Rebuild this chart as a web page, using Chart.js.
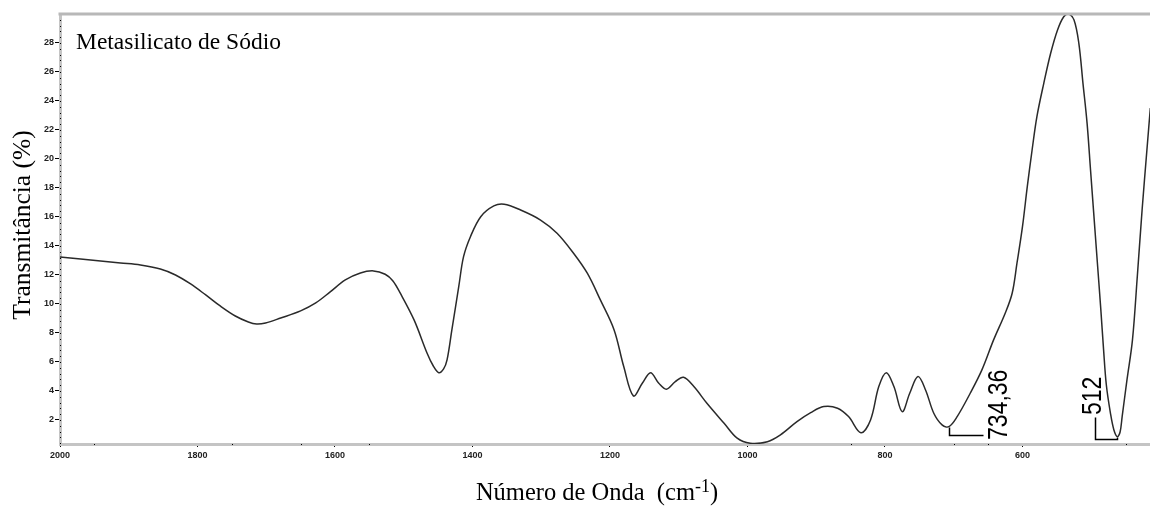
<!DOCTYPE html>
<html>
<head>
<meta charset="utf-8">
<title>Metasilicato de Sódio</title>
<script src="https://cdn.jsdelivr.net/npm/chart.js@4.4.1/dist/chart.umd.min.js"></script>
<style>
  html, body { margin: 0; padding: 0; background: #fff; }
  #wrap { width: 1150px; height: 506px; position: relative; }
</style>
</head>
<body>
<div id="wrap"><canvas id="myChart"></canvas></div>
<script>
// spectrum (cm-1 / %)
var waveNumber = [2000, 1970, 1941, 1912, 1883, 1854, 1832, 1810, 1788, 1767, 1745, 1726, 1714, 1701,
  1679, 1650, 1628, 1607, 1585, 1563, 1544, 1527, 1516, 1505, 1485, 1466, 1457, 1449, 1442, 1437,
  1430, 1420, 1413, 1403, 1388, 1369, 1354, 1330, 1301, 1277, 1253, 1233, 1214, 1194, 1180, 1166,
  1153, 1141, 1129, 1118, 1105, 1093, 1078, 1059, 1034, 1015, 996, 971, 952, 928, 908, 889, 869,
  853, 835, 821, 809, 798, 787, 775, 764, 752, 741, 729, 717, 707, 695, 676, 659, 642, 625, 615,
  608, 600, 593, 586, 579, 569, 559, 549, 540, 533, 525, 518, 512, 506, 501, 496, 491, 486, 482,
  478, 472, 467, 462, 458, 455, 448, 440, 433, 426, 419, 414];
var transmittance = [13.24, 13.10, 12.97, 12.83, 12.69, 12.41, 12.0, 11.38, 10.62, 9.86, 9.17, 8.76, 8.62, 8.69,
  9.03, 9.52, 10.07, 10.83, 11.66, 12.14, 12.28, 12.05, 11.6, 10.74, 8.90, 6.60, 5.72, 5.26, 5.52, 6.14,
  8.21, 11.19, 13.26, 14.64, 16.02, 16.76, 16.88, 16.48, 15.79, 14.88, 13.50, 12.12, 10.28, 8.21, 5.68, 3.66,
  4.53, 5.26, 4.53, 4.12, 4.64, 4.94, 4.30, 3.15, 1.77, 0.74, 0.39, 0.50, 0.97, 1.88, 2.50, 2.92, 2.81,
  2.23, 1.12, 2.0, 4.30, 5.26, 4.30, 2.57, 3.84, 4.99, 4.07, 2.46, 1.66, 1.54, 2.23, 3.84, 5.45, 7.52, 9.38, 10.74,
  12.81, 15.33, 18.09, 20.62, 22.92, 25.22, 27.29, 28.9, 29.81, 30.0, 29.59, 27.98, 25.22, 22.46, 19.24, 16.02, 12.81, 9.59, 6.83,
  4.41, 2.46, 1.31, 0.85, 1.17, 2.23, 4.76, 7.52, 11.88, 16.48, 20.62, 23.52];

var xTicks = [2000, 1800, 1600, 1400, 1200, 1000, 800, 600];
var xMinorTicks = [1950, 1750, 1650, 1550, 850, 700, 650, 450];
var yTicks = [2, 4, 6, 8, 10, 12, 14, 16, 18, 20, 22, 24, 26, 28];

var sampleName = 'Metasilicato de Sódio';
var peakText = ['734,36', '512'];
// bracket from the marked minimum, then where the label starts
var peakPath = [
  [[707, 1.54], [707, 0.97], [657, 0.97]],
  [[462, 0.85], [462, 0.67], [494, 0.67], [494, 2.18]]
];
var peakTextAt = [[622, 0.62], [486.5, 2.34]];

var tickFont = { family: 'Liberation Sans', size: 9, weight: 'bold' };
var serif = '"Liberation Serif", "DejaVu Serif", serif';

var spectrumDecor = {
  id: 'spectrumDecor',
  afterDraw: function (chart) {
    var ctx = chart.ctx;
    var a = chart.chartArea;
    var xs = chart.scales.x, ys = chart.scales.y;
    ctx.save();

    // top frame line
    ctx.strokeStyle = '#b8b8b8';
    ctx.lineWidth = 3;
    ctx.beginPath();
    ctx.moveTo(a.left - 1.5, a.top);
    ctx.lineTo(a.right, a.top);
    ctx.stroke();

    // minor tick dots
    ctx.fillStyle = '#000';
    for (var v = 0.4; v < 30; v += 0.4) {
      var py = ys.getPixelForValue(v);
      if (py > a.top + 2) ctx.fillRect(a.left, Math.round(py), 1, 1);
    }
    xMinorTicks.forEach(function (w) {
      ctx.fillRect(Math.round(xs.getPixelForValue(w)), a.bottom, 1, 1);
    });

    // sample name
    ctx.fillStyle = '#000';
    ctx.font = '23.5px ' + serif;
    ctx.textBaseline = 'alphabetic';
    ctx.textAlign = 'left';
    ctx.fillText(sampleName, a.left + 16, a.top + 35);

    // y title
    ctx.save();
    ctx.translate(30, (a.top + a.bottom) / 2 - 4);
    ctx.rotate(-Math.PI / 2);
    ctx.textAlign = 'center';
    ctx.font = '25.5px ' + serif;
    ctx.fillText('Transmitância (%)', 0, 0);
    ctx.restore();

    // x title with superscript
    var main = 'Número de Onda  (cm';
    ctx.font = '24.5px ' + serif;
    var w1 = ctx.measureText(main).width;
    ctx.font = '18px ' + serif;
    var w2 = ctx.measureText('-1').width;
    ctx.font = '24.5px ' + serif;
    var w3 = ctx.measureText(')').width;
    var x0 = 597 - (w1 + w2 + w3) / 2;
    var base = 500;
    ctx.fillText(main, x0, base);
    ctx.font = '18px ' + serif;
    ctx.fillText('-1', x0 + w1, base - 8);
    ctx.font = '24.5px ' + serif;
    ctx.fillText(')', x0 + w1 + w2, base);

    // peak marks
    ctx.strokeStyle = '#000';
    ctx.lineWidth = 1.5;
    peakPath.forEach(function (path, i) {
      ctx.beginPath();
      path.forEach(function (p, j) {
        var px = Math.round(xs.getPixelForValue(p[0])) + 0.5;
        var py = Math.round(ys.getPixelForValue(p[1])) + 0.5;
        if (j === 0) ctx.moveTo(px, py); else ctx.lineTo(px, py);
      });
      ctx.stroke();

      ctx.save();
      ctx.translate(xs.getPixelForValue(peakTextAt[i][0]), ys.getPixelForValue(peakTextAt[i][1]));
      ctx.rotate(-Math.PI / 2);
      ctx.scale(1, 1.2);
      ctx.font = '23px "Liberation Sans"';
      ctx.textAlign = 'left';
      ctx.fillText(peakText[i], 0, 0);
      ctx.restore();
    });

    ctx.restore();
  }
};

var points = waveNumber.map(function (w, i) {
  return { x: w, y: transmittance[i] };
});

new Chart(document.getElementById('myChart'), {
  type: 'line',
  data: {
    datasets: [{
      data: points,
      borderColor: '#2a2a2a',
      borderWidth: 1.5,
      pointRadius: 0,
      fill: false,
      tension: 0.35
    }]
  },
  options: {
    responsive: true,
    maintainAspectRatio: false,
    animation: false,
    devicePixelRatio: 1,
    layout: { padding: { top: 14, right: 0, left: 0, bottom: 0 } },
    plugins: { legend: { display: false }, tooltip: { enabled: false } },
    scales: {
      x: {
        type: 'linear',
        reverse: true,
        min: 414.5,
        max: 2000,
        afterBuildTicks: function (s) { s.ticks = xTicks.map(function (v) { return { value: v }; }); },
        afterFit: function (s) { s.height = 62; },
        grid: { drawOnChartArea: false, tickLength: 3, tickColor: '#000' },
        border: { color: '#c4c4c4', width: 3 },
        ticks: { font: tickFont, color: '#222', padding: 3, maxRotation: 0, autoSkip: false,
          callback: function (v) { return String(v); } }
      },
      y: {
        type: 'linear',
        min: 0.34,
        max: 30,
        afterBuildTicks: function (s) { s.ticks = yTicks.map(function (v) { return { value: v }; }); },
        afterFit: function (s) { s.width = 60; },
        grid: { drawOnChartArea: false, tickLength: 5, tickColor: '#000' },
        border: { color: '#c4c4c4', width: 3 },
        ticks: { font: tickFont, color: '#222', padding: 1,
          callback: function (v) { return String(v); } }
      }
    }
  },
  plugins: [spectrumDecor]
});
</script>
</body>
</html>
